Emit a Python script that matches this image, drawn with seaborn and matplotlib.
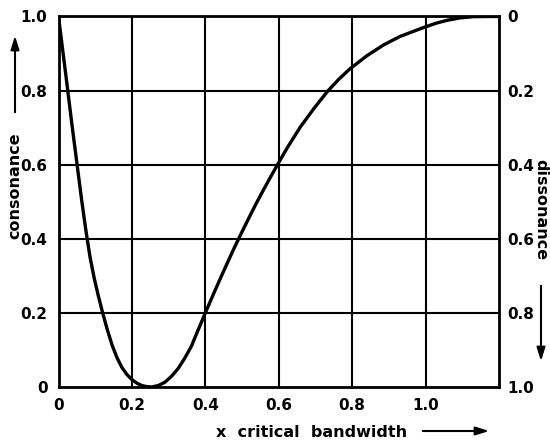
import matplotlib
matplotlib.use("Agg")
import matplotlib.pyplot as plt
import seaborn as sns
import pandas as pd

# data (x in units of critical bandwidth, consonance 0..1)
x_cb = [0, 0.012, 0.024, 0.037, 0.05, 0.063, 0.075, 0.086, 0.097, 0.108, 0.119, 0.132,
        0.146, 0.159, 0.172, 0.186, 0.2, 0.214, 0.227, 0.24, 0.254, 0.272, 0.29, 0.308,
        0.326, 0.344, 0.362, 0.38, 0.4, 0.42, 0.44, 0.46, 0.48, 0.5, 0.52, 0.54, 0.56,
        0.58, 0.6, 0.624, 0.659, 0.696, 0.732, 0.763, 0.793, 0.84, 0.885, 0.93, 0.991,
        1.029, 1.06, 1.092, 1.13, 1.17, 1.2]
consonance = [1.0, 0.905, 0.81, 0.705, 0.605, 0.505, 0.42, 0.35, 0.295, 0.248, 0.205, 0.158,
              0.113, 0.08, 0.054, 0.034, 0.02, 0.01, 0.004, 0.001, 0.0, 0.004, 0.013, 0.029,
              0.05, 0.078, 0.11, 0.153, 0.2, 0.246, 0.291, 0.335, 0.378, 0.419, 0.459, 0.498, 0.535,
              0.571, 0.606, 0.647, 0.702, 0.752, 0.797, 0.83, 0.858, 0.894, 0.923, 0.946, 0.969,
              0.982, 0.99, 0.996, 0.9995, 1.0, 1.0]
x_ticks = [0, 0.2, 0.4, 0.6, 0.8, 1.0]
x_ticklabels = ["0", "0.2", "0.4", "0.6", "0.8", "1.0"]
y_ticks = [0, 0.2, 0.4, 0.6, 0.8, 1.0]
y_ticklabels = ["0", "0.2", "0.4", "0.6", "0.8", "1.0"]
dis_ticklabels = ["0", "0.2", "0.4", "0.6", "0.8", "1.0"]

sns.set_style("white")
plt.rcParams["font.family"] = ["DejaVu Sans"]
plt.rcParams["text.color"] = "black"
plt.rcParams["xtick.color"] = "black"
plt.rcParams["ytick.color"] = "black"

df = pd.DataFrame({"x": x_cb, "c": consonance})

fig = plt.figure(figsize=(5.5, 4.44), dpi=100)
ax = fig.add_axes([58.5 / 550, 1 - 387 / 444, 440.5 / 550, 370.5 / 444])

# grid lines
for xv in x_ticks[1:]:
    ax.axvline(xv, color="black", lw=1.5, zorder=1)
for yv in y_ticks[1:-1]:
    ax.axhline(yv, color="black", lw=1.5, zorder=1)

sns.lineplot(data=df, x="x", y="c", ax=ax, color="black", lw=2.4, zorder=3)
for ln in ax.lines:
    ln.set_solid_joinstyle("round")

ax.set_xlim(0, 1.2)
ax.set_ylim(0, 1.0)
ax.set_xticks(x_ticks)
ax.set_xticklabels(x_ticklabels, fontsize=11, fontweight="bold")
ax.set_yticks(y_ticks)
ax.set_yticklabels(y_ticklabels, fontsize=11, fontweight="bold")
ax.tick_params(length=0, pad=8)
ax.set_xlabel("")
ax.set_ylabel("")
for s in ax.spines.values():
    s.set_color("black")
    s.set_linewidth(2.0)

ax2 = ax.twinx()
ax2.set_ylim(1.0, 0)
ax2.set_yticks(y_ticks)
ax2.set_yticklabels(dis_ticklabels, fontsize=11, fontweight="bold")
ax2.tick_params(length=0, pad=6)
for s in ax2.spines.values():
    s.set_visible(False)

# axis titles and arrows in figure coordinates
fig.text(15 / 550, 1 - 186 / 444, "consonance", rotation=90, ha="center", va="center",
         fontsize=11.5, fontweight="bold")
fig.text(541 / 550, 1 - 210 / 444, "dissonance", rotation=-90, ha="center", va="center",
         fontsize=11.5, fontweight="bold")
fig.text(312 / 550, 1 - 432 / 444, "x  critical  bandwidth", ha="center", va="center",
         fontsize=11.5, fontweight="bold")

arrowprops = dict(arrowstyle="-|>,head_length=0.8,head_width=0.25", color="black", lw=1.5)
ax.annotate("", xy=(15 / 550, 1 - 33 / 444), xytext=(15 / 550, 1 - 115 / 444),
            xycoords="figure fraction", textcoords="figure fraction", arrowprops=arrowprops)
ax.annotate("", xy=(541 / 550, 1 - 364 / 444), xytext=(541 / 550, 1 - 283 / 444),
            xycoords="figure fraction", textcoords="figure fraction", arrowprops=arrowprops)
ax.annotate("", xy=(492 / 550, 1 - 431 / 444), xytext=(420 / 550, 1 - 431 / 444),
            xycoords="figure fraction", textcoords="figure fraction", arrowprops=arrowprops)

fig.savefig("out.png", dpi=100, facecolor="white")
